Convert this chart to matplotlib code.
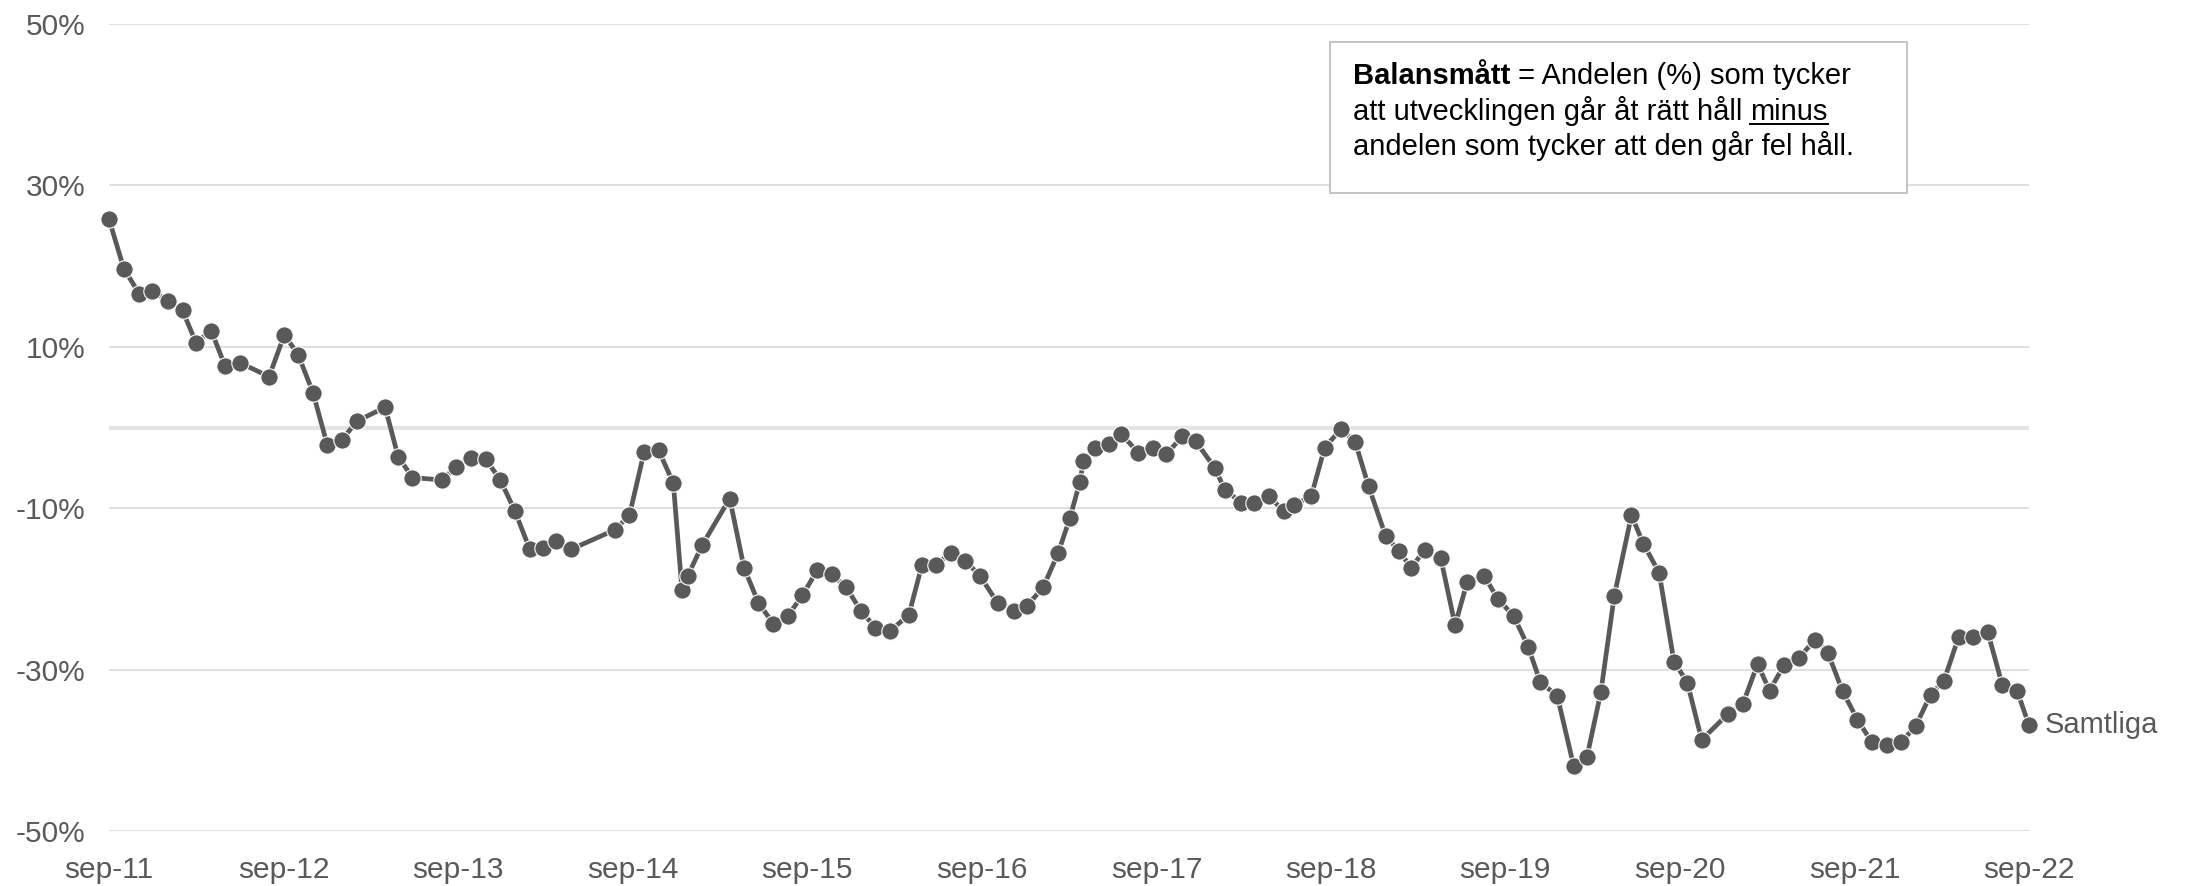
import pandas as pd
import matplotlib
matplotlib.use("Agg")
import matplotlib.pyplot as plt
from matplotlib.patches import Rectangle
from matplotlib.text import Annotation

# survey dates and balance measure (%)
dates = [
    "2011-09-01", "2011-10-02", "2011-11-03", "2011-12-01", "2012-01-02", "2012-02-02", "2012-03-01", "2012-04-02", "2012-05-01", "2012-06-02", "2012-08-01",
    "2012-09-02", "2012-10-01", "2012-11-01", "2012-12-01", "2013-01-01", "2013-02-01", "2013-04-01", "2013-04-28", "2013-05-28", "2013-07-28",
    "2013-08-28", "2013-09-28", "2013-10-28", "2013-11-28", "2013-12-28", "2014-01-28", "2014-02-25", "2014-03-25", "2014-04-25", "2014-07-25",
    "2014-08-25", "2014-09-25", "2014-10-25", "2014-11-25", "2014-12-13", "2014-12-25", "2015-01-25", "2015-03-23", "2015-04-22", "2015-05-22",
    "2015-06-22", "2015-07-22", "2015-08-22", "2015-09-22", "2015-10-22", "2015-11-22", "2015-12-22", "2016-01-22", "2016-02-22", "2016-04-01",
    "2016-04-28", "2016-05-28", "2016-06-28", "2016-07-28", "2016-08-28", "2016-10-04", "2016-11-07", "2016-12-04", "2017-01-07", "2017-02-07",
    "2017-03-04", "2017-03-25", "2017-04-01", "2017-04-25", "2017-05-25", "2017-06-19", "2017-07-25", "2017-08-25", "2017-09-22", "2017-10-25",
    "2017-11-22", "2018-01-01", "2018-01-22", "2018-02-25", "2018-03-25", "2018-04-25", "2018-05-25", "2018-06-16", "2018-07-22", "2018-08-19",
    "2018-09-22", "2018-10-22", "2018-11-19", "2018-12-25", "2019-01-22", "2019-02-16", "2019-03-16", "2019-04-19", "2019-05-19", "2019-06-13",
    "2019-07-19", "2019-08-16", "2019-09-19", "2019-10-19", "2019-11-13", "2019-12-19", "2020-01-22", "2020-02-19", "2020-03-19", "2020-04-16",
    "2020-05-22", "2020-06-16", "2020-07-19", "2020-08-19", "2020-09-16", "2020-10-16", "2020-12-10", "2021-01-10", "2021-02-10", "2021-03-07",
    "2021-04-07", "2021-05-07", "2021-06-10", "2021-07-07", "2021-08-07", "2021-09-07", "2021-10-07", "2021-11-07", "2021-12-07", "2022-01-07",
    "2022-02-07", "2022-03-07", "2022-04-07", "2022-05-07", "2022-06-07", "2022-07-07", "2022-08-07", "2022-09-01",
]
samtliga = [
    25.8, 19.7, 16.6, 16.9, 15.7, 14.5, 10.5, 12.0, 7.6, 8.0, 6.3,
    11.5, 9.0, 4.3, -2.2, -1.5, 0.8, 2.5, -3.6, -6.2, -6.5,
    -4.9, -3.8, -3.9, -6.5, -10.3, -15.0, -14.9, -14.1, -15.1, -12.7,
    -10.9, -3.0, -2.8, -6.9, -20.1, -18.4, -14.5, -8.8, -17.4, -21.7,
    -24.3, -23.4, -20.8, -17.7, -18.2, -19.8, -22.7, -24.8, -25.2, -23.2,
    -17.1, -17.0, -15.5, -16.5, -18.4, -21.8, -22.7, -22.1, -19.8, -15.6,
    -11.2, -6.7, -4.2, -2.6, -2.0, -0.8, -3.1, -2.5, -3.3, -1.1,
    -1.7, -5.0, -7.7, -9.3, -9.4, -8.5, -10.4, -9.6, -8.5, -2.5,
    -0.2, -1.8, -7.3, -13.5, -15.3, -17.4, -15.2, -16.2, -24.5, -19.2,
    -18.4, -21.2, -23.4, -27.2, -31.5, -33.3, -41.9, -40.8, -32.8, -20.9,
    -10.9, -14.4, -18.0, -29.0, -31.6, -38.7, -35.5, -34.3, -29.3, -32.6,
    -29.4, -28.6, -26.3, -27.9, -32.7, -36.2, -39.0, -39.4, -39.0, -37.0,
    -33.1, -31.4, -25.9, -26.0, -25.4, -31.9, -32.6, -36.9,
]
series_label = "Samtliga"

xtick_dates = ["2011-09-01", "2012-09-01", "2013-09-01", "2014-09-01", "2015-09-01", "2016-09-01",
               "2017-09-01", "2018-09-01", "2019-09-01", "2020-09-01", "2021-09-01", "2022-09-01"]
xtick_labels = ["sep-11", "sep-12", "sep-13", "sep-14", "sep-15", "sep-16",
                "sep-17", "sep-18", "sep-19", "sep-20", "sep-21", "sep-22"]
ytick_values = [50, 30, 10, -10, -30, -50]

df = pd.DataFrame({"date": pd.to_datetime(dates), "value": samtliga})

plt.rcParams["font.family"] = ["Liberation Sans", "DejaVu Sans"]
grey = "#595959"
W, H = 2191, 886

fig = plt.figure(figsize=(W / 100, H / 100), dpi=100)
ax = fig.add_axes([109 / W, 1 - 831 / H, (2029 - 109) / W, (831 - 24) / H])

ax.set_ylim(-50, 50)
ax.set_xlim(df.date.min(), df.date.max())
ax.set_yticks(ytick_values)
ax.set_yticklabels([f"{v}%" for v in ytick_values])
ax.set_xticks(pd.to_datetime(xtick_dates))
ax.set_xticklabels(xtick_labels)
ax.grid(axis="y", color="#d9d9d9", linewidth=1.2)
ax.axhline(0, color="#e3e3e3", linewidth=2.8, zorder=1)
ax.set_axisbelow(True)
for s in ax.spines.values():
    s.set_visible(False)
ax.tick_params(length=0, labelsize=21.5, labelcolor=grey)
ax.tick_params(axis="y", pad=17)
ax.tick_params(axis="x", pad=18)

ax.plot(df.date, df.value, color=grey, linewidth=3.4, marker="o", markersize=12.5,
        markerfacecolor=grey, markeredgecolor="white", markeredgewidth=0.8, zorder=3, clip_on=False)

ax.annotate(series_label, xy=(df.date.iloc[-1], df.value.iloc[-1]), xytext=(11, 0),
            textcoords="offset points", va="center", ha="left", fontsize=21, color=grey,
            annotation_clip=False)

# explanation box
fig.add_artist(Rectangle((1330 / W, 1 - 193 / H), (1907 - 1330) / W, (193 - 42) / H,
                         transform=fig.transFigure, facecolor="white", edgecolor="#bfbfbf",
                         linewidth=1.3, zorder=5))
fs = 21
x0 = 1353 / W
t1 = fig.text(x0, 1 - 84 / H, "Balansmått", fontsize=fs, fontweight="bold", va="baseline", zorder=6)
fig.add_artist(Annotation(" = Andelen (%) som tycker", xy=(1, 0), xycoords=t1,
                          va="bottom", ha="left", fontsize=fs, zorder=6))
t2 = fig.text(x0, 1 - 119.5 / H, "att utvecklingen går åt rätt håll", fontsize=fs, va="baseline", zorder=6)
t2b = Annotation("minus", xy=(1, 0), xycoords=t2, xytext=(5.8, 0), textcoords="offset points",
                 va="bottom", ha="left", fontsize=fs, zorder=6)
fig.add_artist(t2b)
fig.text(x0, 1 - 155 / H, "andelen som tycker att den går fel håll.", fontsize=fs, va="baseline", zorder=6)

fig.canvas.draw()
bb = t2b.get_window_extent()
uy = (bb.y0 + 2) / H
fig.add_artist(plt.Line2D([bb.x0 / W, bb.x1 / W], [uy, uy], color="black", linewidth=1.4, zorder=7))

fig.savefig("out.png", dpi=100)
